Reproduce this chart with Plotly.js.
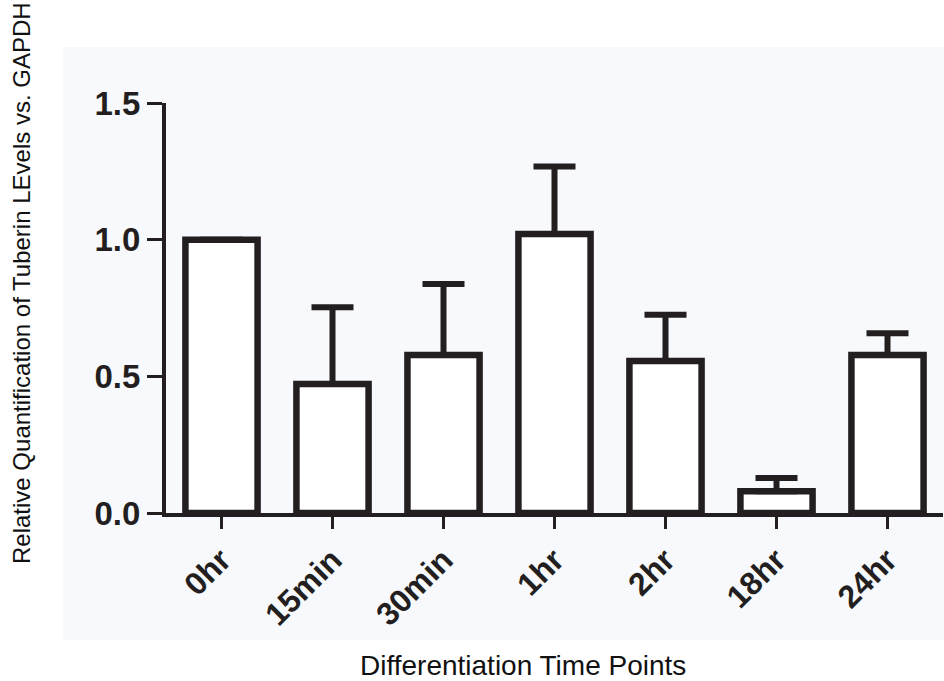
<!DOCTYPE html>
<html>
<head>
<meta charset="utf-8">
<script src="https://cdn.plot.ly/plotly-3.0.1.min.js"></script>
<style>html,body{margin:0;padding:0;background:#fff;}#chart{width:944px;height:681px;}</style>
</head>
<body>
<div id="chart"></div>
<script>
const categories = ["0hr", "15min", "30min", "1hr", "2hr", "18hr", "24hr"];
const values = [1.0, 0.472, 0.578, 1.021, 0.556, 0.080, 0.578];
const errorsUp = [0, 0.281, 0.260, 0.247, 0.169, 0.048, 0.080];
const errorsDown = [0, 0, 0, 0, 0, 0, 0];
const yTickVals = [0, 0.5, 1.0, 1.5];
const yTickText = ["0.0", "0.5", "1.0", "1.5"];
const xTitle = "Differentiation Time Points";
const yTitle = "Relative Quantification of Tuberin LEvels vs. GAPDH";

const ink = "#231f20";
const trace = {
  type: "bar",
  x: categories,
  y: values,
  width: 0.65,
  marker: {color: "#ffffff", line: {color: ink, width: 6.5}},
  error_y: {type: "data", symmetric: false, array: errorsUp, arrayminus: errorsDown,
            color: ink, thickness: 6, width: 21},
  cliponaxis: false,
  hoverinfo: "none"
};

const layout = {
  width: 944, height: 681,
  margin: {l: 166, r: 1, t: 103, b: 168},
  paper_bgcolor: "#ffffff",
  plot_bgcolor: "rgba(0,0,0,0)",
  showlegend: false,
  xaxis: {
    type: "category",
    range: [-0.5, 6.5],
    showline: true, linecolor: ink, linewidth: 3.5,
    ticks: "outside", ticklen: 12, tickwidth: 3, tickcolor: ink,
    tickangle: -45,
    tickfont: {family: "Liberation Sans, Arial, sans-serif", size: 32, color: ink, weight: "bold"},
    showgrid: false, zeroline: false, fixedrange: true
  },
  yaxis: {
    range: [0, 1.5],
    tickvals: yTickVals, ticktext: yTickText,
    showline: true, linecolor: ink, linewidth: 4,
    ticks: "outside", ticklen: 15, tickwidth: 3, tickcolor: ink,
    tickfont: {family: "Liberation Sans, Arial, sans-serif", size: 33, color: ink, weight: "bold"},
    showgrid: false, zeroline: false, fixedrange: true
  },
  shapes: [{
    type: "rect", xref: "paper", yref: "paper", layer: "below",
    x0: -0.1326, x1: 1.01, y0: -0.3098, y1: 1.1366,
    fillcolor: "#f7f9fc", line: {width: 0}
  }],
  annotations: [
    {text: yTitle, xref: "paper", yref: "paper", x: -0.1853, y: 0.561,
     textangle: -90, showarrow: false, xanchor: "center", yanchor: "middle",
     font: {family: "Liberation Sans, Arial, sans-serif", size: 24, color: "#111"}},
    {text: xTitle, xref: "paper", yref: "paper", x: 0.4595, y: -0.371,
     showarrow: false, xanchor: "center", yanchor: "middle",
     font: {family: "Liberation Sans, Arial, sans-serif", size: 28, color: "#111"}}
  ]
};

Plotly.newPlot("chart", [trace], layout, {displayModeBar: false, staticPlot: true});
</script>
</body>
</html>
